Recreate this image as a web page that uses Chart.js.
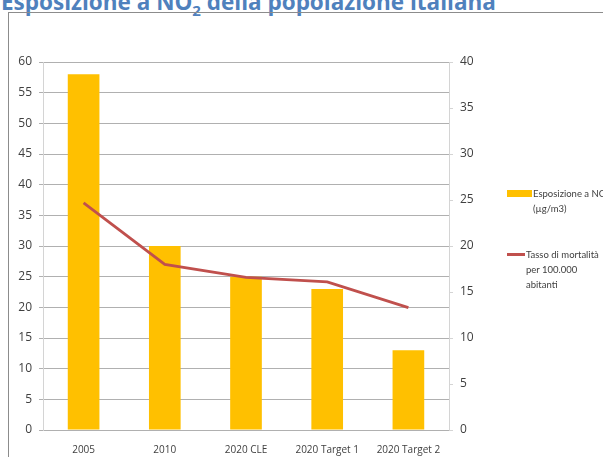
<!DOCTYPE html>
<html>
<head>
<meta charset="utf-8">
<script src="https://cdn.jsdelivr.net/npm/chart.js@4"></script>
<style>
  html, body { margin: 0; padding: 0; background: #fff; overflow: hidden; }
  #wrap { position: relative; width: 603px; height: 457px; }
  #title {
    position: absolute; left: 1px; top: -14px; white-space: nowrap;
    font-family: 'Open Sans', sans-serif; font-weight: 700; font-size: 22.5px;
    color: #4f81bd;
  }
  #frame {
    position: absolute; left: 8px; top: 12px; width: 620px; height: 470px;
    border: 1px solid #8c8c8c; box-sizing: border-box;
  }
  #chart { position: absolute; left: 0; top: 0; }
  .leg { position: absolute; font-family: Lato, 'Open Sans', sans-serif;
    font-size: 9.5px; line-height: 15px; color: #404040; white-space: nowrap; }
  .sw { position: absolute; }
</style>
</head>
<body>
<div id="wrap">
  <div id="title">Esposizione a NO<sub style="font-size:15px">2</sub> della popolazione italiana</div>
  <div id="frame"></div>
  <canvas id="chart" width="603" height="457"></canvas>
  <div class="sw" style="left:507px;top:190px;width:25px;height:7px;background:#ffc000"></div>
  <div class="leg" style="left:533px;top:186px">Esposizione a NO2<br>(µg/m3)</div>
  <div class="sw" style="left:507px;top:253px;width:18px;height:3px;background:#c0504d"></div>
  <div class="leg" style="left:526px;top:247px">Tasso di mortalità<br>per 100.000<br>abitanti</div>
</div>
<script>
// ── DATA ──
const categories = ['2005', '2010', '2020 CLE', '2020 Target 1', '2020 Target 2'];
const exposure   = [58, 30, 25, 23, 13];          // µg/m3, left axis
const mortality  = [24.7, 18.0, 16.6, 16.1, 13.3]; // per 100.000, right axis

const LEFT_TICKS  = [0, 5, 10, 15, 20, 25, 30, 35, 40, 45, 50, 55, 60];
const RIGHT_TICKS = [0, 5, 10, 15, 20, 25, 30, 35, 40];

const YELLOW = '#ffc000';
const RED    = '#c0504d';
const GRID   = '#b0b0b0';
const AXIS   = '#d4d4d4';
const TXT    = '#404040';

Chart.defaults.font.family = "'Open Sans', sans-serif";
Chart.defaults.color = TXT;

new Chart(document.getElementById('chart'), {
    data: {
        labels: categories,
        datasets: [
            {
                type: 'line',
                label: 'Tasso di mortalità per 100.000 abitanti',
                data: mortality,
                yAxisID: 'y2',
                borderColor: RED,
                borderWidth: 2.8,
                pointRadius: 0,
                tension: 0,
                order: 0
            },
            {
                type: 'bar',
                label: 'Esposizione a NO2 (µg/m3)',
                data: exposure,
                yAxisID: 'y',
                backgroundColor: YELLOW,
                categoryPercentage: 1,
                barPercentage: 0.39,
                order: 1
            }
        ]
    },
    options: {
        responsive: false,
        animation: false,
        layout: { padding: { left: 0, right: 114, top: 62, bottom: 0 } },
        plugins: { legend: { display: false }, tooltip: { enabled: false } },
        scales: {
            x: {
                grid: { display: false },
                border: { display: false },
                ticks: { font: { size: 10 }, color: TXT, padding: 6 },
                afterFit: (s) => { s.height = 27; }
            },
            y: {
                position: 'left',
                min: 0, max: 60,
                afterBuildTicks: (s) => { s.ticks = LEFT_TICKS.map(v => ({ value: v })); },
                grid: { color: GRID, tickLength: 4, tickColor: GRID },
                border: { color: AXIS, width: 1 },
                ticks: { font: { size: 12 }, color: TXT, padding: 7 },
                afterFit: (s) => { s.width = 43; }
            },
            y2: {
                position: 'right',
                min: 0, max: 40,
                afterBuildTicks: (s) => { s.ticks = RIGHT_TICKS.map(v => ({ value: v })); },
                grid: { drawOnChartArea: false, tickLength: 4, tickColor: AXIS },
                border: { color: AXIS, width: 1 },
                ticks: { font: { size: 12 }, color: TXT, padding: 7 },
                afterFit: (s) => { s.width = 40; }
            }
        }
    }
});
</script>
</body>
</html>
